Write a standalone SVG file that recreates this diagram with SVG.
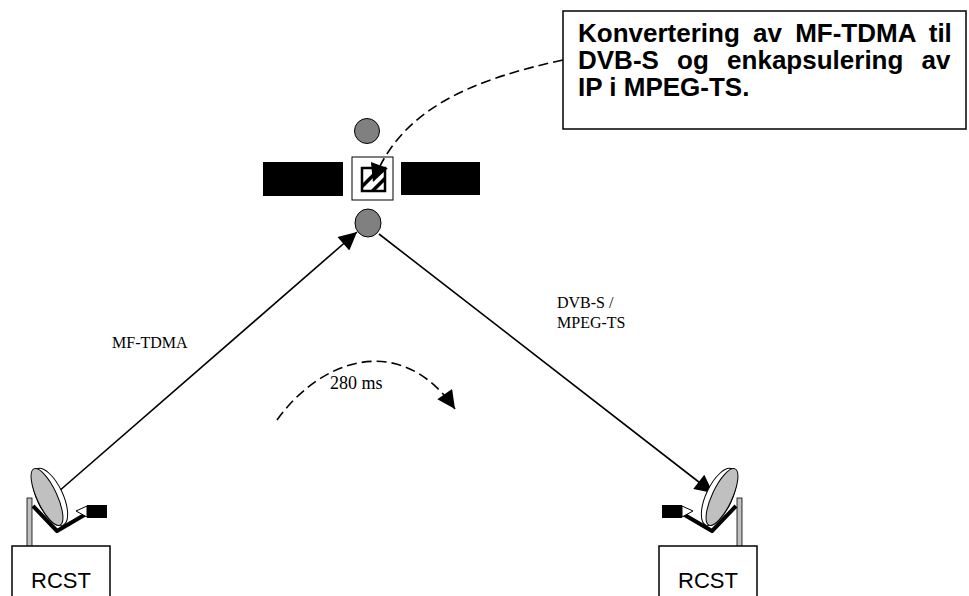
<svg xmlns="http://www.w3.org/2000/svg" width="969" height="596" viewBox="0 0 969 596">
  <style>
    .lbl { font-family: "Liberation Serif", "Times New Roman", serif; font-size: 16px; fill: #000; }
    .box { fill: #fff; stroke: #000; stroke-width: 1.5; }
    .term { font-family: "Liberation Sans", Arial, sans-serif; font-size: 22px; fill: #000; }
    .note { font-family: "Liberation Sans", Arial, sans-serif; font-size: 26px; font-weight: bold; fill: #000; }
    .ball { fill: #808080; stroke: #000; stroke-width: 1; }
    .panel { fill: #000; }
    .link { fill: none; stroke: #000; stroke-width: 1.6; }
    .dash { fill: none; stroke: #000; stroke-width: 1.6; stroke-dasharray: 10 5; }
  </style>
  <defs>
    <marker id="headBig" viewBox="0 0 10 10" refX="10" refY="5" markerWidth="24" markerHeight="18" markerUnits="userSpaceOnUse" orient="auto">
      <path d="M0,0 L10,5 L0,10 z" fill="#000"/>
    </marker>
    <!-- dish antenna on a mast, feed pointing right -->
    <g id="dish">
      <rect x="27" y="498" width="5" height="49" fill="#c0c0c0" stroke="#000" stroke-width="0.8"/>
      <path d="M33,506 L57,531 L86,514" fill="none" stroke="#000" stroke-width="4" stroke-linejoin="round"/>
      <ellipse cx="50" cy="497" rx="13" ry="31" transform="rotate(-25 50 497)" fill="#fff" stroke="#000" stroke-width="1"/>
      <ellipse cx="47" cy="497" rx="10" ry="31" transform="rotate(-25 47 497)" fill="#c0c0c0" stroke="#000" stroke-width="1"/>
      <path d="M76,511 L87,506 L87,517 z" fill="#fff" stroke="#000" stroke-width="1"/>
      <rect x="87" y="505" width="20" height="13" fill="#000"/>
    </g>
  </defs>

  <!-- satellite -->
  <g id="satellite">
    <circle class="ball" cx="367" cy="131" r="12.5"/>
    <rect class="panel" x="263" y="162" width="80" height="34"/>
    <rect class="panel" x="401" y="162" width="79" height="33"/>
    <rect x="352" y="157" width="41" height="43" fill="#fff" stroke="#000" stroke-width="1"/>
    <rect x="362" y="168" width="23" height="23" fill="#fff" stroke="#000" stroke-width="2.5"/>
    <path d="M362,184 L378,168 L383,168 L362,189 z" fill="#000"/>
    <path d="M370,191 L385,176 L385,181 L375,191 z" fill="#000"/>
    <ellipse class="ball" cx="368" cy="223" rx="13" ry="14"/>
  </g>

  <!-- conversion note -->
  <g id="note">
    <rect class="box" x="563" y="11" width="403" height="118"/>
    <text class="note" x="578" y="42" word-spacing="6">Konvertering av MF-TDMA til</text>
    <text class="note" x="578" y="69" word-spacing="11">DVB-S og enkapsulering av</text>
    <text class="note" x="578" y="96">IP i MPEG-TS.</text>
  </g>

  <!-- connectors -->
  <g id="connectors">
    <line class="link" x1="58" y1="492" x2="357" y2="232" marker-end="url(#headBig)"/>
    <line class="link" x1="379" y1="234" x2="713" y2="493" marker-end="url(#headBig)"/>
    <path class="dash" d="M563,60 C 470,80 400,110 373,182" marker-end="url(#headBig)"/>
    <path class="dash" d="M277,420 C 320,360 400,330 455,409" marker-end="url(#headBig)"/>
  </g>

  <!-- link labels -->
  <g id="labels">
    <text class="lbl" x="112" y="348">MF-TDMA</text>
    <text class="lbl" x="557" y="308">DVB-S /</text>
    <text class="lbl" x="557" y="328">MPEG-TS</text>
    <text class="lbl" x="330" y="389" style="font-size:18px">280 ms</text>
  </g>

  <!-- left terminal -->
  <g id="rcst-left">
    <use href="#dish"/>
    <rect class="box" x="12" y="546" width="98" height="60"/>
    <text class="term" x="61" y="588" text-anchor="middle">RCST</text>
  </g>

  <!-- right terminal (mirrored) -->
  <g id="rcst-right">
    <use href="#dish" transform="translate(769,0) scale(-1,1)"/>
    <rect class="box" x="659" y="546" width="98" height="60"/>
    <text class="term" x="708" y="588" text-anchor="middle">RCST</text>
  </g>
</svg>
